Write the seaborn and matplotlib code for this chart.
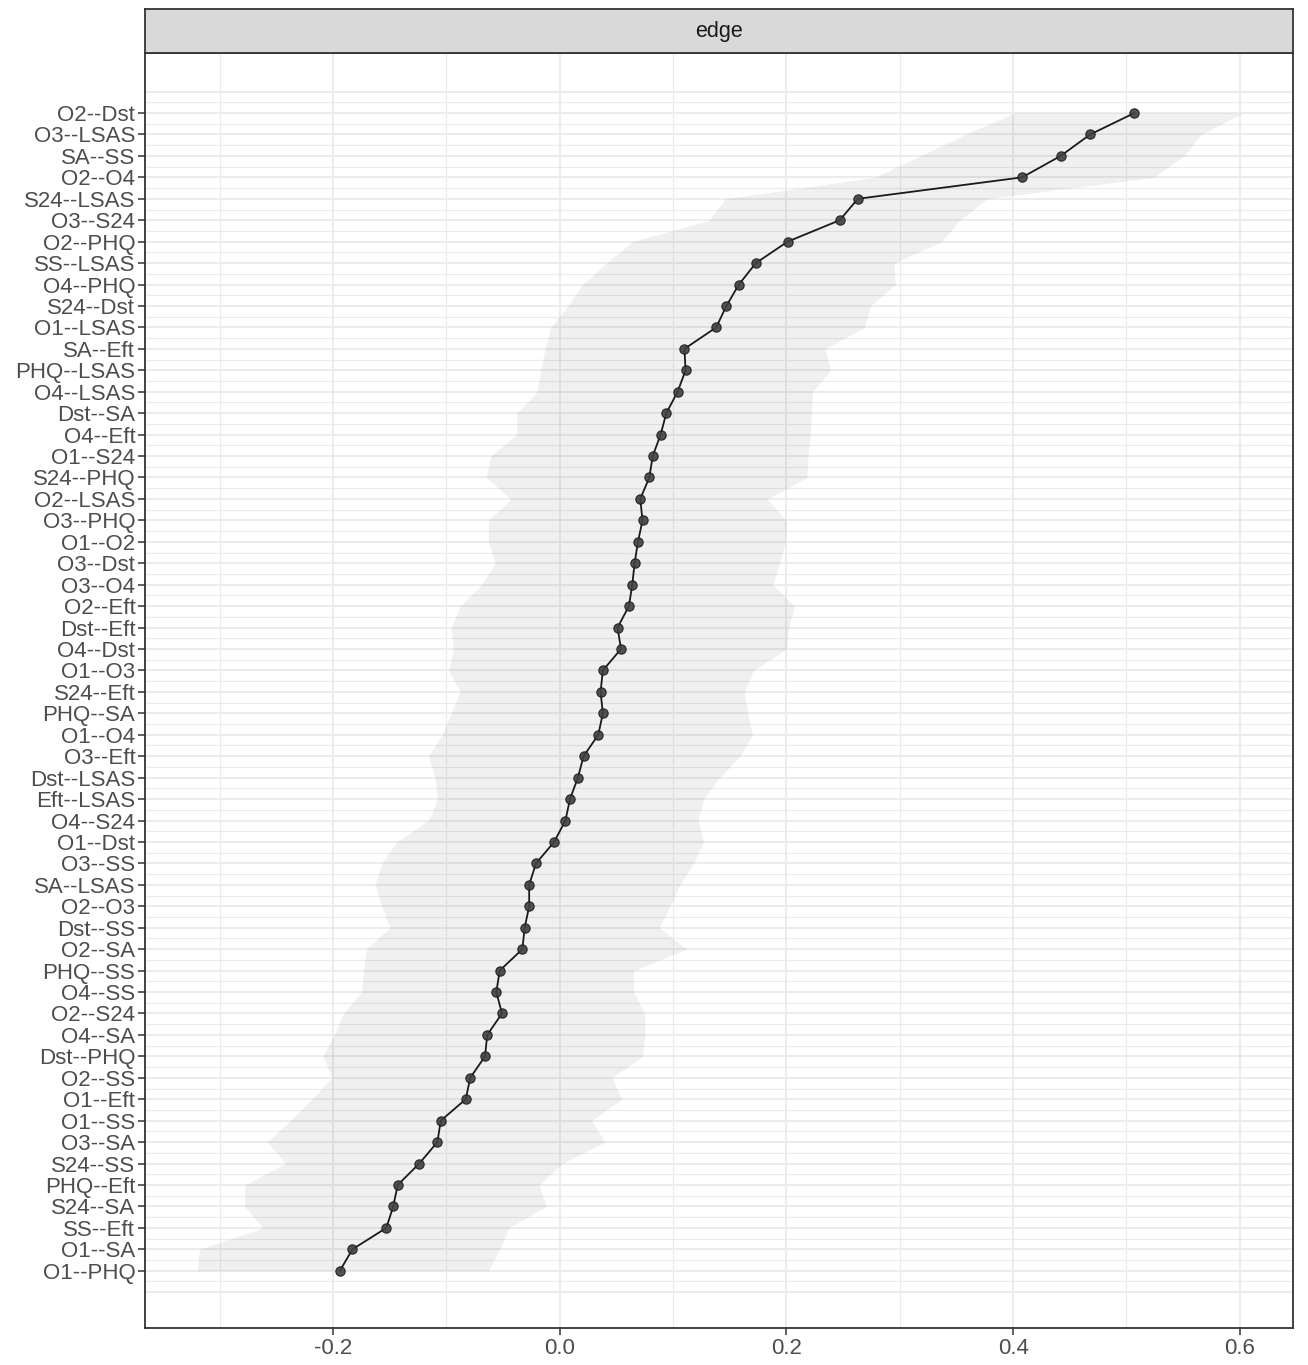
import numpy as np
import pandas as pd
import seaborn as sns
import matplotlib.pyplot as plt

# edges ordered top to bottom, with bootstrap mean and CI bounds
edges = ["O2--Dst", "O3--LSAS", "SA--SS", "O2--O4", "S24--LSAS", "O3--S24",
         "O2--PHQ", "SS--LSAS", "O4--PHQ", "S24--Dst", "O1--LSAS", "SA--Eft",
         "PHQ--LSAS", "O4--LSAS", "Dst--SA", "O4--Eft", "O1--S24", "S24--PHQ",
         "O2--LSAS", "O3--PHQ", "O1--O2", "O3--Dst", "O3--O4", "O2--Eft",
         "Dst--Eft", "O4--Dst", "O1--O3", "S24--Eft", "PHQ--SA", "O1--O4",
         "O3--Eft", "Dst--LSAS", "Eft--LSAS", "O4--S24", "O1--Dst", "O3--SS",
         "SA--LSAS", "O2--O3", "Dst--SS", "O2--SA", "PHQ--SS", "O4--SS",
         "O2--S24", "O4--SA", "Dst--PHQ", "O2--SS", "O1--Eft", "O1--SS",
         "O3--SA", "S24--SS", "PHQ--Eft", "S24--SA", "SS--Eft", "O1--SA",
         "O1--PHQ"]

mean = [0.507, 0.468, 0.442, 0.408, 0.263, 0.247, 0.201, 0.173, 0.158, 0.147,
        0.138, 0.110, 0.111, 0.104, 0.094, 0.089, 0.082, 0.079, 0.071, 0.073,
        0.069, 0.066, 0.064, 0.061, 0.051, 0.054, 0.038, 0.036, 0.038, 0.034,
        0.021, 0.016, 0.009, 0.005, -0.005, -0.021, -0.027, -0.027, -0.031, -0.033,
        -0.053, -0.056, -0.051, -0.064, -0.066, -0.079, -0.083, -0.105, -0.108, -0.124,
        -0.143, -0.147, -0.153, -0.183, -0.194]

lower = [0.401, 0.358, 0.318, 0.278, 0.146, 0.132, 0.064, 0.041, 0.020, 0.007,
         -0.008, -0.013, -0.017, -0.020, -0.038, -0.038, -0.061, -0.065, -0.043, -0.063,
         -0.063, -0.057, -0.069, -0.088, -0.096, -0.094, -0.098, -0.088, -0.096, -0.104,
         -0.116, -0.110, -0.108, -0.116, -0.144, -0.157, -0.163, -0.157, -0.150, -0.171,
         -0.173, -0.175, -0.191, -0.199, -0.209, -0.201, -0.219, -0.238, -0.258, -0.242,
         -0.278, -0.278, -0.262, -0.318, -0.320]

upper = [0.603, 0.566, 0.551, 0.524, 0.377, 0.353, 0.337, 0.295, 0.296, 0.274,
         0.269, 0.234, 0.239, 0.223, 0.222, 0.221, 0.219, 0.218, 0.183, 0.200,
         0.199, 0.194, 0.188, 0.207, 0.202, 0.200, 0.171, 0.163, 0.166, 0.170,
         0.159, 0.141, 0.127, 0.122, 0.127, 0.118, 0.106, 0.097, 0.088, 0.112,
         0.065, 0.065, 0.075, 0.075, 0.073, 0.046, 0.055, 0.028, 0.040, 0.002,
         -0.018, -0.012, -0.045, -0.053, -0.063]

df = pd.DataFrame({"edge": edges, "mean": mean, "lower": lower, "upper": upper})
df["pos"] = np.arange(len(df))

sns.set_theme(style="white")
plt.rcParams["font.family"] = ["Liberation Sans", "DejaVu Sans"]

W, H = 1308, 1365
fig = plt.figure(figsize=(W / 100, H / 100), dpi=100)
fig.patch.set_facecolor("white")

left, right = 145 / W, 1293 / W
ptop, pbot = 53 / H, 1328 / H
ax = fig.add_axes([left, 1 - pbot, right - left, pbot - ptop])
strip = fig.add_axes([left, 1 - ptop, right - left, 44 / H])

grid_col = "#ebebeb"
# gridlines
for v in [-0.2, 0.0, 0.2, 0.4, 0.6]:
    ax.axvline(v, color=grid_col, lw=1.3, zorder=0)
for v in [-0.3, -0.1, 0.1, 0.3, 0.5]:
    ax.axvline(v, color=grid_col, lw=0.8, zorder=0)
for r in np.arange(-1, len(df) + 0.5, 0.5):
    ax.axhline(r, color=grid_col, lw=1.3 if r == int(r) else 0.8, zorder=0)

# CI ribbon
ax.fill_betweenx(df["pos"], df["lower"], df["upper"], color="black",
                 alpha=0.06, lw=0, zorder=1)

sns.lineplot(data=df, x="mean", y="pos", sort=False, estimator=None,
             orient="y", color="#1a1a1a", lw=1.3, ax=ax, zorder=2)
sns.scatterplot(data=df, x="mean", y="pos", color="#404040", alpha=0.9,
                edgecolor="#1a1a1a", linewidth=0.8, s=45, ax=ax, zorder=3)

ax.set_xlim(-0.366, 0.647)
ax.set_ylim(56.67, -2.8)
ax.set_xticks([-0.2, 0.0, 0.2, 0.4, 0.6])
ax.set_xticklabels(["-0.2", "0.0", "0.2", "0.4", "0.6"])
ax.set_yticks(df["pos"])
ax.set_yticklabels(df["edge"])
ax.set_xlabel("")
ax.set_ylabel("")
ax.tick_params(axis="both", which="major", length=5, width=1.1, color="#333333",
               labelsize=16, labelcolor="#4d4d4d", pad=2, left=True, bottom=True)
for s in ax.spines.values():
    s.set_color("#333333")
    s.set_linewidth(1.3)

# facet strip
strip.set_facecolor("#d9d9d9")
strip.set_xticks([])
strip.set_yticks([])
for s in strip.spines.values():
    s.set_color("#333333")
    s.set_linewidth(1.3)
strip.text(0.5, 0.5, "edge", ha="center", va="center", fontsize=15.5,
           color="#1a1a1a", transform=strip.transAxes)

fig.savefig("out.png", dpi=100, facecolor="white")
